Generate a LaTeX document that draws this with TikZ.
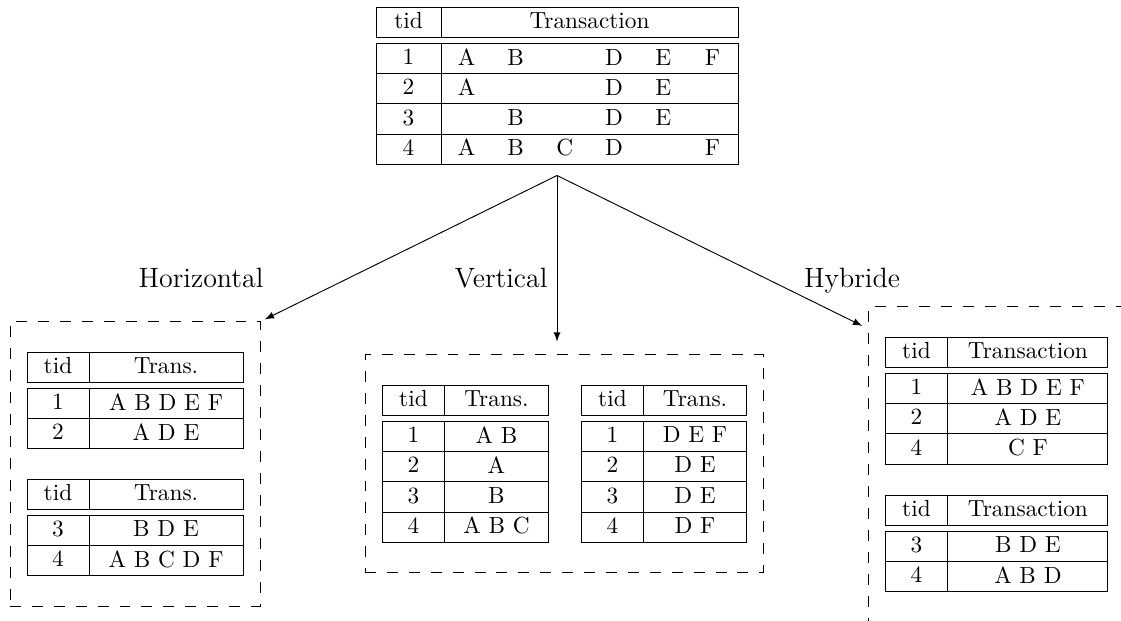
\documentclass[tikz,border=0pt]{standalone}
\usepackage{tikz}
\usetikzlibrary{arrows, calc, positioning, fit}
\tikzset{
  % table cell
  cell/.style={
    draw, outer sep=0pt, inner sep=0pt, text depth=1.5pt,
    minimum height=13pt, anchor=north west
  },
  % dashed box around a group of tables
  grpbox/.style={
    draw, dash pattern=on 4.7pt off 4.7pt,
    inner xsep=7.3pt, inner ysep=12.9pt
  },
  % split arrows
  garr/.style={
    -latex, line width=0.4pt
  },
  lbl/.style={font=\large, anchor=base},
}
% one item column of the big table
\newcommand{\itm}[1]{\makebox[21.1pt]{#1}}
% table: name, top left corner, tid width, trans width, header, rows
\newcommand{\tbl}[6]{%
  \node (#1-h1) [cell, minimum width=#3] at (#2) {tid};
  \node (#1-h2) [cell, minimum width=#4, right=0pt of #1-h1] {#5};
  \foreach \id/\items [count=\row] in {#6} {
    \node (#1-r\row) [cell, minimum width=#3]
      at ($(#1-h1.south west)+(0,{6+(\row-1)*30.3})$) {\id};
    \node (#1-t\row) [cell, minimum width=#4, right=0pt of #1-r\row] {\items};
  }%
}

\begin{document}
\begin{tikzpicture}[x=0.429pt, y=-0.429pt]
  \useasboundingbox (0,0) rectangle (1121,621);
  \clip (0,0) rectangle (1121,621);

  % database
  \tbl{top}{376,7}{27.9pt}{127.4pt}{Transaction}{
    1/{\itm{A}\itm{B}\itm{}\itm{D}\itm{E}\itm{F}},
    2/{\itm{A}\itm{}\itm{}\itm{D}\itm{E}\itm{}},
    3/{\itm{}\itm{B}\itm{}\itm{D}\itm{E}\itm{}},
    4/{\itm{A}\itm{B}\itm{C}\itm{D}\itm{}\itm{F}}}

  % horizontal
  \tbl{horA}{27,352}{26.6pt}{66.1pt}{Trans.}{1/A B D E F, 2/A D E}
  \tbl{horB}{27,479}{26.6pt}{66.1pt}{Trans.}{3/B D E, 4/A B C D F}
  \node (hor) [grpbox, fit=(horA-h1)(horB-t2)] {};

  % vertical
  \tbl{verA}{382,385}{27pt}{44.2pt}{Trans.}{1/A B, 2/A, 3/B, 4/A B C}
  \tbl{verB}{581,385}{27pt}{43.8pt}{Trans.}{1/D E F, 2/D E, 3/D E, 4/D F}
  \node (ver) [grpbox, fit=(verA-h1)(verB-t4)] {};

  % hybride
  \tbl{hybA}{885,337}{27pt}{68.6pt}{Transaction}{1/A B D E F, 2/A D E, 4/C F}
  \tbl{hybB}{885,495}{27pt}{68.6pt}{Transaction}{3/B D E, 4/A B D}
  \node (hyb) [grpbox, fit=(hybA-h1)(hybB-t2)] {};

  \coordinate (split) at ($(top-r4.south west)!0.5!(top-t4.south east)+(0,11)$);
  \coordinate (hyb-in) at ($(hyb.north west)+(0,22)$);

  \draw[garr, shorten >=2pt] (split) -- (hor.north east);
  \draw[garr, shorten >=5.5pt] (split) -- (split |- ver.north);
  \draw[garr, shorten >=2.5pt] (split) -- (hyb-in);

  \node (hlbl) [lbl] at (201,288) {Horizontal};
  \node (vlbl) [lbl] at (501,288) {Vertical};
  \node (ylbl) [lbl] at (852,288) {Hybride};
\end{tikzpicture}
\end{document}
